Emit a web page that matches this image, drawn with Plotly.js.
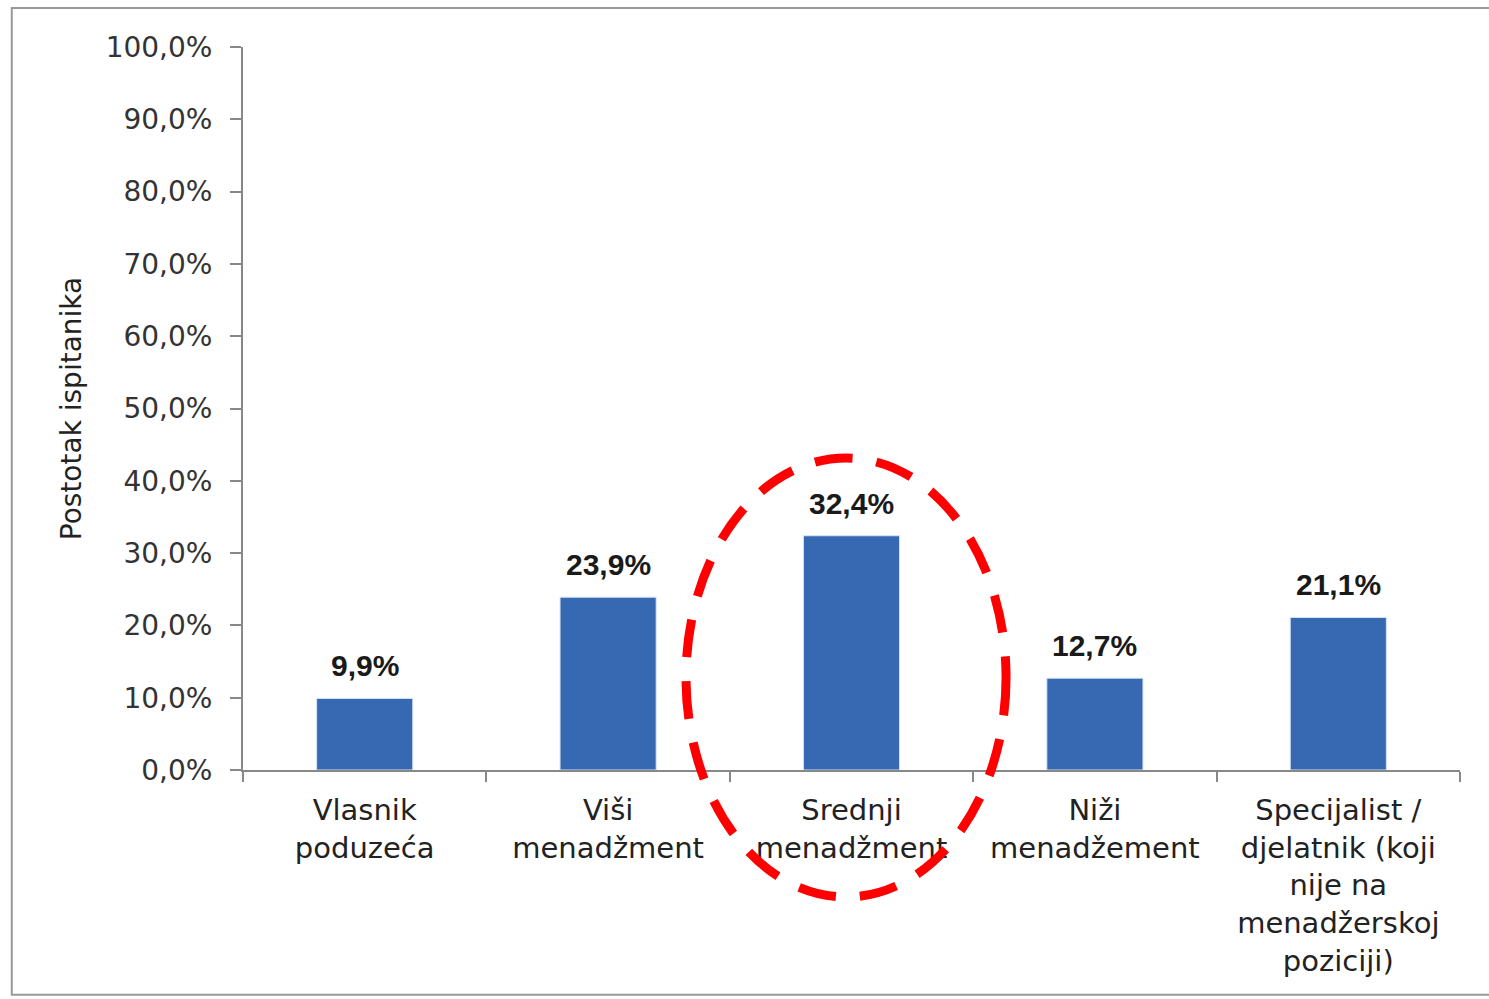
<!DOCTYPE html>
<html>
<head>
<meta charset="utf-8">
<script src="https://cdn.plot.ly/plotly-3.0.1.min.js"></script>
<style>
html,body{margin:0;padding:0;background:#fff;}
#chart{width:1489px;height:999px;}
</style>
</head>
<body>
<div id="chart"></div>
<script>
const categories = [
  "Vlasnik<br>poduzeća",
  "Viši<br>menadžment",
  "Srednji<br>menadžment",
  "Niži<br>menadžement",
  "Specijalist /<br>djelatnik (koji<br>nije na<br>menadžerskoj<br>poziciji)"
];
const values = [9.9, 23.9, 32.4, 12.7, 21.1];
const yTicks = [0, 10, 20, 30, 40, 50, 60, 70, 80, 90, 100];
const yTickText = ["0,0%", "10,0%", "20,0%", "30,0%", "40,0%", "50,0%", "60,0%", "70,0%", "80,0%", "90,0%", "100,0%"];
const valueLabels = ["9,9%", "23,9%", "32,4%", "12,7%", "21,1%"];

const trace = {
  type: 'bar',
  x: categories,
  y: values,
  marker: {color: '#3669b1', line: {color: '#d6e4f5', width: 1}},
  hoverinfo: 'none'
};

const annotations = categories.map((c, i) => ({
  x: c, y: values[i], xref: 'x', yref: 'y',
  text: valueLabels[i],
  showarrow: false,
  yanchor: 'bottom',
  yshift: 14,
  font: {family: 'Liberation Sans, Arial, sans-serif', size: 30, color: '#1a1a1a', weight: 'bold'}
}));

const layout = {
  width: 1489,
  height: 999,
  paper_bgcolor: '#ffffff',
  plot_bgcolor: '#ffffff',
  margin: {l: 243, r: 29, t: 47, b: 229},
  showlegend: false,
  bargap: 0.605,
  font: {family: 'DejaVu Sans, sans-serif', size: 28, color: '#333333'},
  annotations: annotations,
  xaxis: {
    type: 'category',
    showline: true,
    linecolor: '#888888',
    linewidth: 2,
    ticks: 'outside',
    tickson: 'boundaries',
    ticklen: 10,
    tickwidth: 2,
    tickcolor: '#888888',
    showgrid: false,
    zeroline: false,
    tickfont: {family: 'DejaVu Sans, sans-serif', size: 29, color: '#222222'},
    ticklabelstandoff: 13
  },
  yaxis: {
    range: [0, 100],
    tickmode: 'array',
    tickvals: yTicks,
    ticktext: yTickText,
    showline: true,
    linecolor: '#888888',
    linewidth: 2,
    ticks: 'outside',
    ticklen: 11,
    tickwidth: 2,
    tickcolor: '#888888',
    showgrid: false,
    zeroline: false,
    tickfont: {family: 'DejaVu Sans, sans-serif', size: 28, color: '#333333'},
    ticklabelstandoff: 12,
    title: {text: 'Postotak ispitanika', font: {family: 'DejaVu Sans, sans-serif', size: 28, color: '#222222'}, standoff: 16}
  },
  shapes: [
    {
      type: 'rect', xref: 'paper', yref: 'paper',
      x0: -0.19, x1: 1.06, y0: -0.311, y1: 1.054,
      line: {color: '#999999', width: 2}, fillcolor: 'rgba(0,0,0,0)', layer: 'below'
    },
    {
      type: 'circle', xref: 'paper', yref: 'paper',
      x0: 0.364, x1: 0.627, y0: -0.1757, y1: 0.4315,
      line: {color: '#ff0000', width: 9, dash: '38px,24px'},
      fillcolor: 'rgba(0,0,0,0)', layer: 'above'
    }
  ]
};

Plotly.newPlot('chart', [trace], layout, {displayModeBar: false, staticPlot: true});
</script>
</body>
</html>
